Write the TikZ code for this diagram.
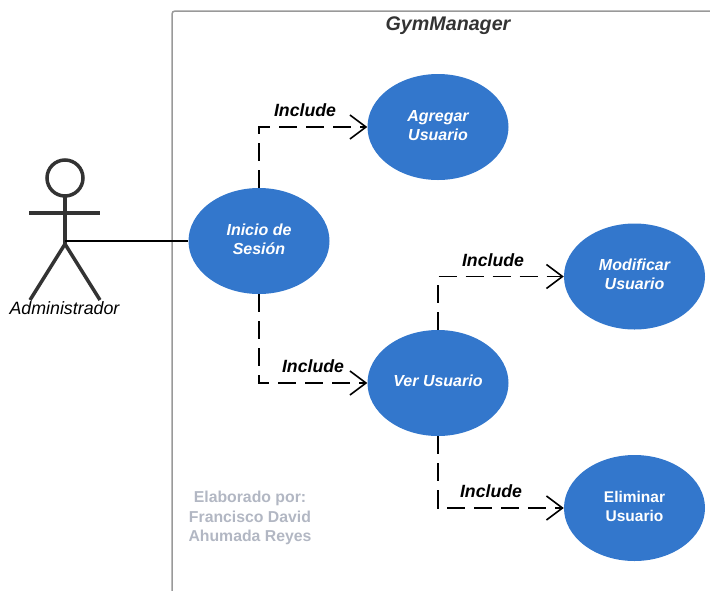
\documentclass[tikz,border=0pt]{standalone}
\usepackage{fontspec}
\setmainfont{Liberation Sans}
\usetikzlibrary{calc,arrows.meta,shapes.geometric}
\definecolor{ucblue}{HTML}{3377CC}
\definecolor{stick}{HTML}{333333}
\definecolor{credit}{HTML}{B2B7C3}
\definecolor{frameline}{HTML}{999999}
\tikzset{
  usecase/.style={ellipse, fill=ucblue, text=white, minimum width=141pt, minimum height=106pt, inner sep=0pt,
    align=center, text depth=4pt, font=\fontsize{16}{19}\selectfont\bfseries\itshape},
  dep/.style={draw=black, line width=1.6pt, dash pattern=on 18pt off 9pt, -{Straight Barb[length=16pt,width=24pt,line width=1.6pt]}},
  inclabel/.style={font=\fontsize{17.7}{20}\selectfont\bfseries\itshape},
}
\begin{document}
\begin{tikzpicture}[x=1pt,y=-1pt]
\useasboundingbox (0,0) rectangle (710,590);

\draw [frameline, line width=1.5pt, rounded corners=3pt] (711,11) -- (172,11) -- (172,591);
\node (title) [font=\fontsize{19.7}{22}\selectfont\bfseries\itshape, text=stick] at (448,26) {GymManager};

\coordinate (neck) at (65,196);
\coordinate (hip) at (65,241);
\coordinate (crotch) at (65,244);

\node (inicio) [usecase] at (259,241) {Inicio de\\Sesión};
\node (agregar) [usecase] at (438,127) {Agregar\\Usuario};
\node (ver) [usecase] at (438,383) {Ver Usuario};
\node (modificar) [usecase] at (634.5,276.5) {Modificar\\Usuario};
\node (eliminar) [usecase, font=\fontsize{15.5}{19}\selectfont\bfseries] at (634.5,508) {Eliminar\\Usuario};

% actor
\draw [stick, line width=3.5pt] ($(neck) + (0,-18)$) circle (18pt);
\draw [stick, line width=3.5pt] (neck) -- (crotch);
\draw [stick, line width=3.5pt] (29,213) -- (100,213);
\draw [stick, line width=3.5pt] (30,300) -- (crotch) -- (100,300);
\node (admin) [font=\fontsize{17.8}{20}\selectfont\itshape] at (64.5,308) {Administrador};

\draw [line width=1.6pt] (hip) -- (inicio.west);

\draw [dep] (inicio.north) |- (agregar.west);
\draw [dep] (inicio.south) |- (ver.west);
\draw [dep] (ver.north) |- (modificar.west);
\draw [dep] (ver.south) |- (eliminar.west);

\node (inc1) [inclabel] at (305,110) {Include};
\node (inc2) [inclabel] at (313,366) {Include};
\node (inc3) [inclabel] at (493,260) {Include};
\node (inc4) [inclabel] at (491,491) {Include};

\node (byline) [text=credit, align=center, font=\fontsize{15.8}{19.5}\selectfont\bfseries] at (250,518) {Elaborado por:\\Francisco David\\Ahumada Reyes};

\end{tikzpicture}
\end{document}
